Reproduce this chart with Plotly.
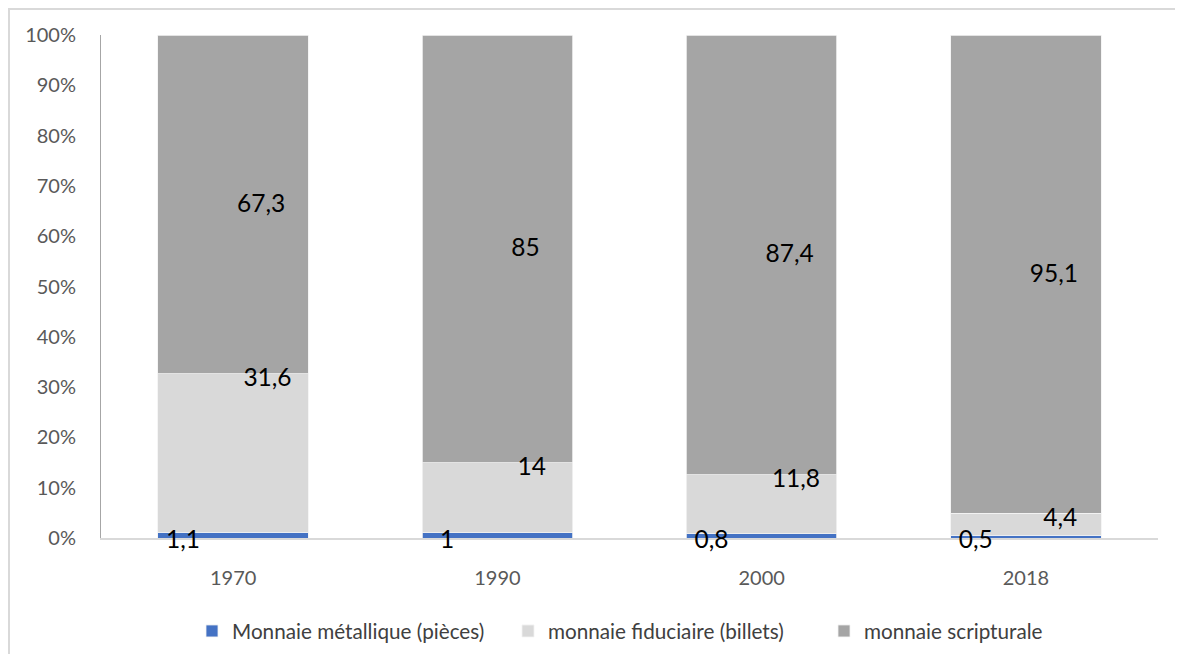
import plotly.graph_objects as go

years = ["1970", "1990", "2000", "2018"]
metallique = [1.1, 1, 0.8, 0.5]
fiduciaire = [31.6, 14, 11.8, 4.4]
scripturale = [67.3, 85, 87.4, 95.1]
series_names = ["Monnaie métallique (pièces)", "monnaie fiduciaire (billets)", "monnaie scripturale"]
y_ticks = [0, 10, 20, 30, 40, 50, 60, 70, 80, 90, 100]

colors = ["#4472C4", "#D9D9D9", "#A5A5A5"]
FONT = "Lato, 'Open Sans', sans-serif"

# ---- geometry (figure is placed 8px from page corner by the body margin) ----
W, H = 1175, 646
PL, PR, PT, PB = 93, 1150, 27, 530          # plot area in figure pixels
XR = [-0.5, 3.5]
YR = [0, 100]
xdom = [PL / W, PR / W]
ydom = [(H - PB) / H, (H - PT) / H]
xpx = (PR - PL) / (XR[1] - XR[0])
ypx = (PB - PT) / (YR[1] - YR[0])
# overlay frame subplot (draws the chart border and carries the labels)
FL, FT = 2, 2                                # frame inset in pixels
x3dom = [FL / W, 1]
y3dom = [0, 1 - FT / H]
x3r = [XR[0] - (PL - FL) / xpx, XR[1] + (W - PR) / xpx]
y3r = [YR[0] - (H - PB) / ypx, YR[1] + (PT - FT) / ypx]

def fr(v):
    return ("%g" % v).replace(".", ",")

fig = go.Figure()
for name, vals, col in zip(series_names, [metallique, fiduciaire, scripturale], colors):
    fig.add_trace(go.Bar(
        x=years, y=vals, name=name,
        marker=dict(color=col, line=dict(color="#F2F2F2", width=0.8)),
        xaxis="x", yaxis="y",
    ))

# data labels, on the overlay subplot sharing the same data scale
LBL = dict(family=FONT, size=24.5, color="#000000")
lab_x, lab_y, lab_t = [], [], []
for i in range(len(years)):
    m, f, s = metallique[i], fiduciaire[i], scripturale[i]
    lab_x += [i - 0.19, i + 0.13, i + 0.106]
    lab_y += [-0.8, m + f - 1.2, m + f + s / 2 - 0.3]
    lab_t += [fr(m), fr(f), fr(s)]
fig.add_trace(go.Scatter(
    x=lab_x, y=lab_y, text=lab_t, mode="text", textposition="middle center",
    textfont=LBL, xaxis="x3", yaxis="y3", showlegend=False, hoverinfo="skip",
))

fig.update_layout(
    width=W, height=H,
    barmode="stack",
    bargap=0.43,
    plot_bgcolor="rgba(0,0,0,0)",
    paper_bgcolor="#FFFFFF",
    margin=dict(l=0, r=0, t=0, b=0, pad=0, autoexpand=False),
    font=dict(family=FONT, size=20, color="#595959"),
    showlegend=True,
    legend=dict(orientation="h", x=(192 - 8) / W, xanchor="left", y=(H - 623) / H, yanchor="middle",
                entrywidth=271, entrywidthmode="pixels", bgcolor="rgba(0,0,0,0)",
                font=dict(family=FONT, size=20.7, color="#404040"), traceorder="normal"),
    xaxis=dict(type="category", domain=xdom, range=XR, anchor="y", showgrid=False, showline=True,
               linecolor="#D9D9D9", linewidth=1.5, zeroline=False,
               automargin=False, ticks="outside", ticklen=21, tickcolor="rgba(0,0,0,0)",
               tickfont=dict(family=FONT, size=20, color="#595959")),
    yaxis=dict(domain=ydom, range=YR, anchor="x", tickvals=y_ticks,
               ticktext=[f"{t}%" for t in y_ticks],
               showgrid=False, zeroline=False, showline=True, linecolor="#A6A6A6", linewidth=1,
               automargin=False, ticks="outside", ticklen=20, tickcolor="rgba(0,0,0,0)",
               tickfont=dict(family=FONT, size=20, color="#595959")),
    xaxis3=dict(domain=x3dom, range=x3r, anchor="y3", side="top", showline=True,
                linecolor="#D9D9D9", linewidth=2, showgrid=False, zeroline=False,
                showticklabels=False, ticks="", fixedrange=True),
    yaxis3=dict(domain=y3dom, range=y3r, anchor="x3", side="left", showline=True,
                linecolor="#D9D9D9", linewidth=2, showgrid=False, zeroline=False,
                showticklabels=False, ticks="", fixedrange=True),
)

fig.write_html("out.html")
